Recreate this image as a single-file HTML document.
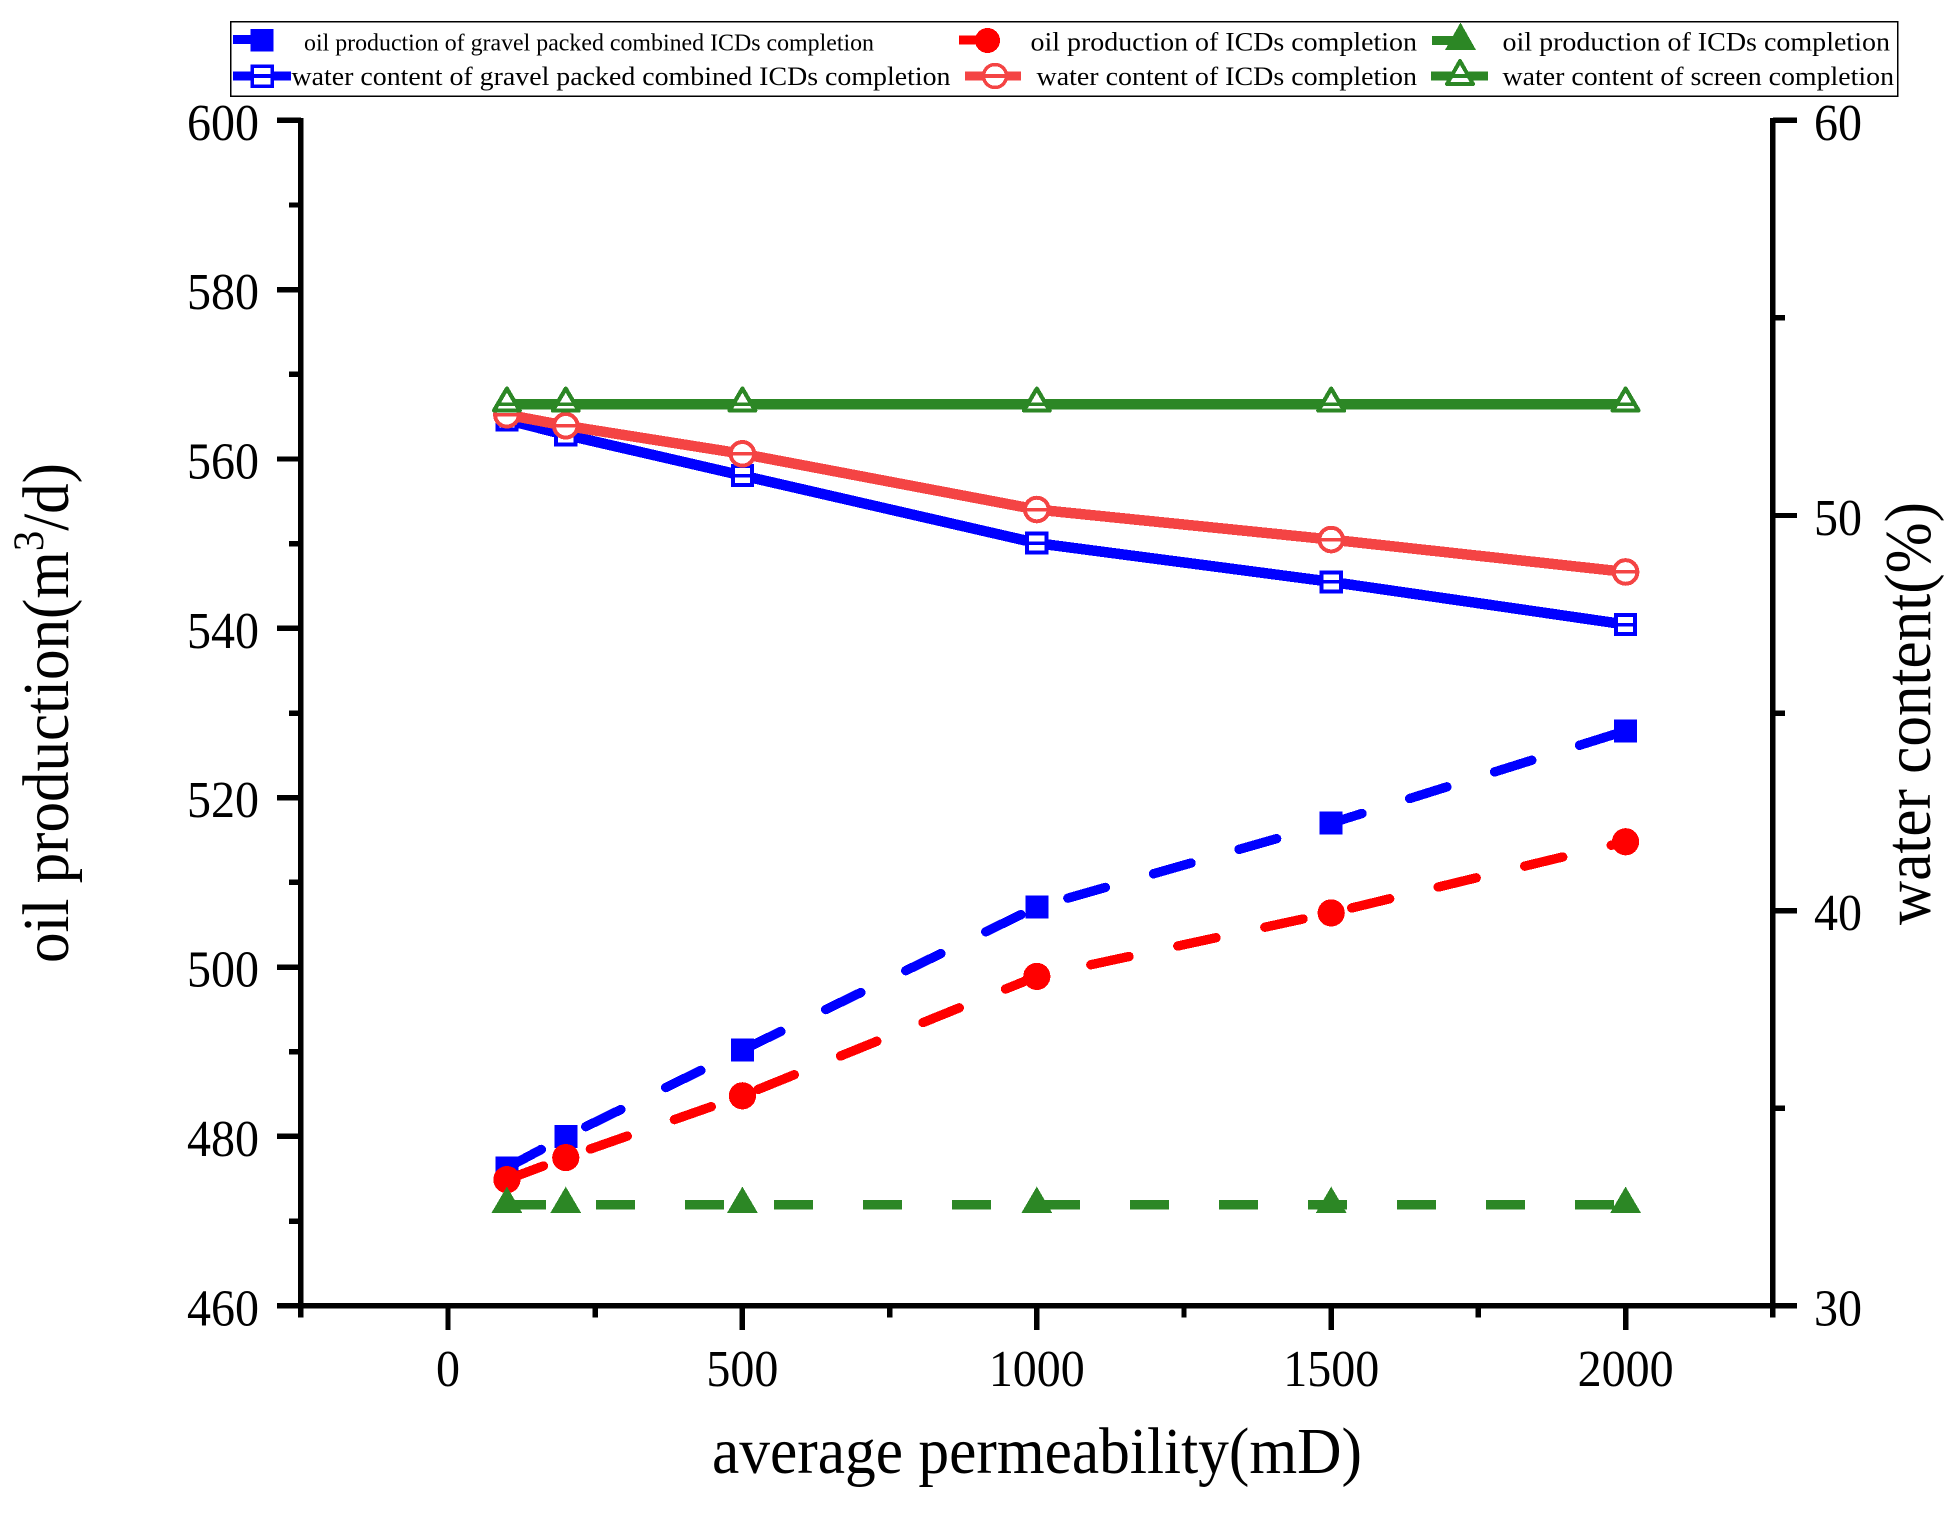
<!DOCTYPE html>
<html lang="en">
<head>
<meta charset="utf-8">
<title>Oil production and water content versus average permeability</title>
<style>
html,body{margin:0;padding:0;background:#fff;width:1959px;height:1514px;overflow:hidden}
svg{display:block}
text{font-family:"Liberation Serif",serif;fill:#000}
line,polyline,polygon,rect,circle{shape-rendering:crispEdges}
</style>
</head>
<body>
<svg id="chart" xmlns="http://www.w3.org/2000/svg" width="1959" height="1514" viewBox="0 0 1959 1514">
  <rect x="0" y="0" width="1959" height="1514" fill="#fff"/>

  <g>
    <rect x="230.5" y="21.5" width="1667" height="74.5" fill="#fff" stroke="#000" stroke-width="1.5"/>

    <g>
      <line x1="233" y1="39.5" x2="262" y2="39.5" stroke="#0000ff" stroke-width="9"/>
      <rect x="250.5" y="29" width="23" height="22.5" fill="#0000ff"/>
      <text x="304" y="50.5" font-size="24" textLength="570" lengthAdjust="spacingAndGlyphs">oil production of gravel packed combined ICDs completion</text>
    </g>
    <g>
      <line x1="233" y1="76" x2="291" y2="76" stroke="#0000ff" stroke-width="9"/>
      <rect x="252" y="66" width="20" height="20" fill="#fff" stroke="#0000ff" stroke-width="3.5"/>
      <line x1="252" y1="76" x2="272" y2="76" stroke="#0000ff" stroke-width="4"/>
      <text x="291.5" y="85" font-size="26" textLength="659" lengthAdjust="spacingAndGlyphs">water content of gravel packed combined ICDs completion</text>
    </g>
    <g>
      <line x1="959" y1="40" x2="985" y2="40" stroke="#ff0000" stroke-width="9"/>
      <circle cx="987.5" cy="40.5" r="12.5" fill="#ff0000"/>
      <text x="1030.5" y="50.5" font-size="26" textLength="386.5" lengthAdjust="spacingAndGlyphs">oil production of ICDs completion</text>
    </g>
    <g>
      <line x1="965" y1="76" x2="1021" y2="76" stroke="#f44444" stroke-width="9"/>
      <circle cx="995" cy="76" r="11.5" fill="#fff" stroke="#f44444" stroke-width="3.5"/>
      <line x1="984" y1="76" x2="1006" y2="76" stroke="#f44444" stroke-width="4"/>
      <text x="1036.5" y="85" font-size="26" textLength="380.5" lengthAdjust="spacingAndGlyphs">water content of ICDs completion</text>
    </g>
    <g>
      <line x1="1432" y1="40.5" x2="1465" y2="40.5" stroke="#2c8725" stroke-width="9"/>
      <polygon points="1460.5,22.5 1476,50 1445,50" fill="#2c8725"/>
      <text x="1502.5" y="50.5" font-size="26" textLength="387.5" lengthAdjust="spacingAndGlyphs">oil production of ICDs completion</text>
    </g>
    <g>
      <line x1="1431" y1="76" x2="1488" y2="76" stroke="#2c8725" stroke-width="9"/>
      <polygon points="1460,61 1473,84 1447,84" fill="#fff" stroke="#2c8725" stroke-width="4" stroke-linejoin="round"/>
      <line x1="1450" y1="76" x2="1470" y2="76" stroke="#2c8725" stroke-width="4"/>
      <text x="1502.5" y="85" font-size="26" textLength="391.5" lengthAdjust="spacingAndGlyphs">water content of screen completion</text>
    </g>
  </g>

  <g id="axes"></g>
  <g id="series"></g>

  <text transform="translate(712,1473) scale(1,1.09)" font-size="60" textLength="650" lengthAdjust="spacingAndGlyphs">average permeability(mD)</text>
  <text transform="translate(68,963) rotate(-90) scale(1,1.09)" font-size="60" textLength="500" lengthAdjust="spacingAndGlyphs">oil production(m<tspan font-size="40" dy="-23">3</tspan><tspan dy="23">/d)</tspan></text>
  <text transform="translate(1930,925) rotate(-90) scale(1,1.09)" font-size="60" textLength="423" lengthAdjust="spacingAndGlyphs">water content(%)</text>
</svg>

<script>
const permeability = [100, 200, 500, 1000, 1500, 2000];
const oilGravel = [476.3, 480.0, 490.2, 507.1, 517.0, 527.9];
const oilIcd = [474.9, 477.5, 484.8, 498.9, 506.4, 514.8];
const oilScreen = [471.95, 471.95, 471.95, 471.95, 471.95, 471.95];
const waterGravel = [52.42, 52.04, 51.01, 49.30, 48.32, 47.24];
const waterIcd = [52.55, 52.27, 51.56, 50.15, 49.39, 48.57];
const waterScreen = [52.82, 52.82, 52.82, 52.82, 52.82, 52.82];

const xMajorTicks = [0, 500, 1000, 1500, 2000];
const xMinorTicks = [-250, 250, 750, 1250, 1750, 2250];
const leftMajorTicks = [460, 480, 500, 520, 540, 560, 580, 600];
const leftMinorTicks = [470, 490, 510, 530, 550, 570, 590];
const rightMajorTicks = [30, 40, 50, 60];
const rightMinorTicks = [35, 45, 55];

const NS = 'http://www.w3.org/2000/svg';
const xAxis = v => 448 + (v * 1177.6) / 2000;
const leftAxis = v => 1305.8 - ((v - 460) * 1185.5) / 140;
const rightAxis = v => 1305.8 - ((v - 30) * 1185.5) / 30;

const axesLayer = document.getElementById('axes');
const seriesLayer = document.getElementById('series');

function make(tag, attrs, parent) {
  const el = document.createElementNS(NS, tag);
  for (const key in attrs) el.setAttribute(key, attrs[key]);
  parent.appendChild(el);
  return el;
}

function tickMark(x1, y1, x2, y2, name) {
  const el = make('line', {x1, y1, x2, y2, stroke: '#000', 'stroke-width': 5.4}, axesLayer);
  
  
}

function tickLabel(x, y, anchor, value, name) {
  const el = make('text', {
    transform: 'translate(' + x + ',' + y + ') scale(1,1.09)',
    'text-anchor': anchor,
    'font-size': 48
  }, axesLayer);
  el.textContent = value;
  
  
}

/* spines */
const leftX = xAxis(-250);
const rightX = xAxis(2250);
const topY = leftAxis(600);
const bottomY = leftAxis(460);
tickMark(leftX, topY - 2.5, leftX, bottomY + 11, 'left-y-axis-line');
tickMark(rightX, topY - 2.5, rightX, bottomY + 11, 'right-y-axis-line');
tickMark(leftX - 24, bottomY, rightX + 24, bottomY, 'x-axis-line');

/* x ticks */
xMajorTicks.forEach(v => {
  tickMark(xAxis(v), bottomY, xAxis(v), bottomY + 24, 'x-major-tick');
  tickLabel(xAxis(v), 1386, 'middle', String(v), 'x-tick-label');
});
xMinorTicks.forEach(v => {
  tickMark(xAxis(v), bottomY, xAxis(v), bottomY + 11.5, 'x-minor-tick');
});

/* left y ticks */
leftMajorTicks.forEach(v => {
  tickMark(leftX - 24, leftAxis(v), leftX, leftAxis(v), 'left-major-tick');
  tickLabel(259, leftAxis(v) + 19.5, 'end', String(v), 'left-tick-label');
});
leftMinorTicks.forEach(v => {
  tickMark(leftX - 12, leftAxis(v), leftX, leftAxis(v), 'left-minor-tick');
});

/* right y ticks */
rightMajorTicks.forEach(v => {
  tickMark(rightX, rightAxis(v), rightX + 24, rightAxis(v), 'right-major-tick');
  tickLabel(1814, rightAxis(v) + 19.5, 'start', String(v), 'right-tick-label');
});
rightMinorTicks.forEach(v => {
  tickMark(rightX, rightAxis(v), rightX + 12, rightAxis(v), 'right-minor-tick');
});

function linePoints(values, axis) {
  return values.map((v, i) => xAxis(permeability[i]) + ',' + axis(v)).join(' ');
}

function drawDashed(values, axis, color, cap, name) {
  const el = make('polyline', {
    points: linePoints(values, axis),
    fill: 'none',
    stroke: color,
    'stroke-width': 9.4,
    'stroke-dasharray': '39 50',
    'stroke-linecap': cap,
    'stroke-linejoin': 'round'
  }, seriesLayer);
  
  
}

function drawSolid(values, axis, color, name) {
  const el = make('polyline', {
    points: linePoints(values, axis),
    fill: 'none',
    stroke: color,
    'stroke-width': 10.5,
    'stroke-linejoin': 'round'
  }, seriesLayer);
  
  
}

function drawMarker(shape, cx, cy, color, open, name) {
  const fill = open ? '#fff' : color;
  const stroke = open ? color : 'none';
  const sw = open ? 4 : 0;
  let el;
  if (shape === 'square') {
    const half = open ? 9.6 : 11.5;
    el = make('rect', {x: cx - half, y: cy - half, width: 2 * half, height: 2 * half, fill, stroke, 'stroke-width': sw}, seriesLayer);
  } else if (shape === 'circle') {
    el = make('circle', {cx, cy, r: open ? 11.8 : 13.6, fill, stroke, 'stroke-width': sw}, seriesLayer);
  } else {
    const inset = open ? 2.6 : 0;
    const halfW = 15.5 - inset;
    const top = cy - 18 + inset;
    const bottom = cy + 8.5 - inset / 1.3;
    el = make('polygon', {
      points: cx + ',' + top + ' ' + (cx + halfW) + ',' + bottom + ' ' + (cx - halfW) + ',' + bottom,
      fill, stroke, 'stroke-width': open ? 4.2 : 0, 'stroke-linejoin': 'round'
    }, seriesLayer);
  }
  
  
  if (open) {
    const bar = make('line', {x1: cx - 10, y1: cy, x2: cx + 10, y2: cy, stroke: color, 'stroke-width': 3.5}, seriesLayer);
    
    
  }
}

function drawMarkers(values, axis, shape, color, open, name) {
  values.forEach((v, i) => {
    drawMarker(shape, xAxis(permeability[i]), axis(v), color, open, name);
  });
}

const BLUE = '#0000ff';
const RED = '#ff0000';
const LIGHT_RED = '#f44444';
const GREEN = '#2c8725';

drawDashed(oilGravel, leftAxis, BLUE, 'round', 'oil-gravel-line');
drawMarkers(oilGravel, leftAxis, 'square', BLUE, false, 'oil-gravel-point');
drawDashed(oilIcd, leftAxis, RED, 'round', 'oil-icd-line');
drawMarkers(oilIcd, leftAxis, 'circle', RED, false, 'oil-icd-point');
drawDashed(oilScreen, leftAxis, GREEN, 'butt', 'oil-screen-line');
drawMarkers(oilScreen, leftAxis, 'triangle', GREEN, false, 'oil-screen-point');

drawSolid(waterGravel, rightAxis, BLUE, 'water-gravel-line');
drawMarkers(waterGravel, rightAxis, 'square', BLUE, true, 'water-gravel-point');
drawSolid(waterIcd, rightAxis, LIGHT_RED, 'water-icd-line');
drawMarkers(waterIcd, rightAxis, 'circle', LIGHT_RED, true, 'water-icd-point');
drawSolid(waterScreen, rightAxis, GREEN, 'water-screen-line');
drawMarkers(waterScreen, rightAxis, 'triangle', GREEN, true, 'water-screen-point');
</script>
</body>
</html>
